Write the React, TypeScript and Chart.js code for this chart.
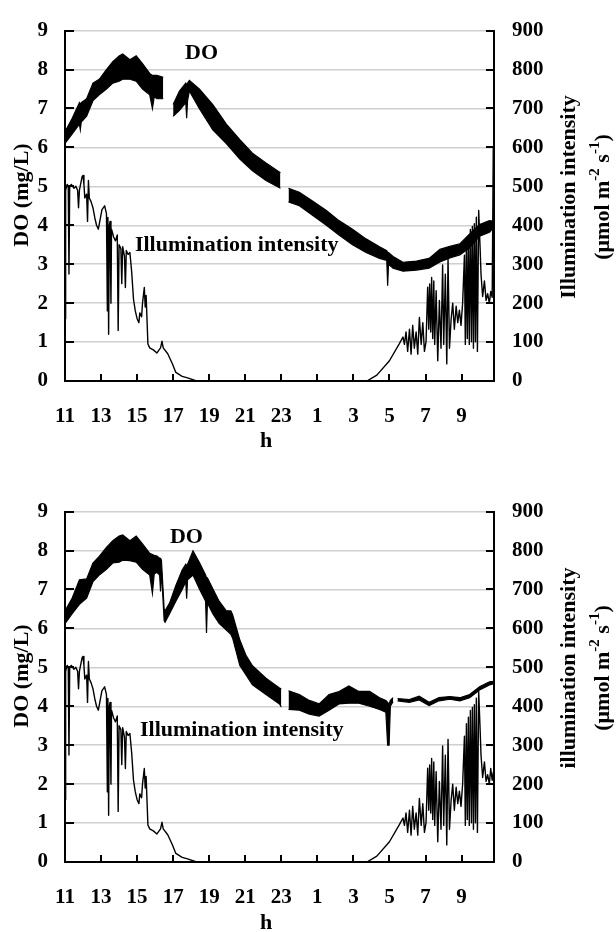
import React, { useEffect, useRef } from 'react';
import { Chart, registerables } from 'chart.js';

Chart.register(...registerables);

// ---------- axis ticks ----------
const xTickValues = [11, 13, 15, 17, 19, 21, 23, 25, 27, 29, 31, 33];
const xTickLabels = ['11', '13', '15', '17', '19', '21', '23', '1', '3', '5', '7', '9'];
const doAxisMax = 9;
const illumAxisMax = 900;

// ---------- top panel: DO band (upper / lower edge of the noisy trace) ----------
const topDoHours = [11.0, 11.4, 11.8, 11.85, 11.9, 12.2, 12.55, 12.9, 13.3, 13.65, 14.0, 14.2, 14.6, 14.95, 15.3, 15.7, 15.85, 15.95, 16.1, 16.45, 16.5, 17.0, 17.35, 17.7, 17.75, 17.8, 17.9, 18.45, 19.2, 19.95, 20.7, 21.4, 22.15, 22.95, 23.1, 23.4, 24.0, 24.75, 25.5, 26.2, 26.95, 27.7, 28.45, 28.85, 28.9, 28.95, 29.2, 29.75, 30.5, 31.2, 31.8, 32.35, 32.9, 33.45, 34.0, 34.55, 34.8];
const topDoHigh = [6.4, 6.75, 7.15, 7.1, 7.15, 7.25, 7.65, 7.75, 8.0, 8.2, 8.35, 8.4, 8.25, 8.35, 8.15, 7.9, 7.85, 7.85, 7.85, 7.8, null, 7.1, 7.45, 7.65, 7.6, 7.65, 7.72, 7.5, 7.1, 6.6, 6.2, 5.85, 5.6, 5.35, null, 4.95, 4.85, 4.62, 4.38, 4.12, 3.9, 3.65, 3.45, 3.35, 3.3, 3.3, 3.2, 3.05, 3.08, 3.15, 3.38, 3.46, 3.52, 3.78, 4.02, 4.12, 4.1];
const topDoLow = [6.1, 6.35, 6.6, 6.45, 6.65, 6.8, 7.2, 7.35, 7.5, 7.65, 7.7, 7.75, 7.75, 7.7, 7.5, 7.35, 7.0, 7.3, 7.25, 7.25, null, 6.8, 6.95, 7.15, 6.75, 7.2, 7.45, 7.0, 6.45, 6.1, 5.7, 5.4, 5.15, 4.95, null, 4.6, 4.5, 4.25, 4.0, 3.75, 3.5, 3.3, 3.15, 3.1, 2.45, 3.0, 2.9, 2.82, 2.85, 2.9, 3.06, 3.16, 3.24, 3.42, 3.72, 3.82, 3.95];

// ---------- bottom panel: DO band ----------
const bottomDoHours = [11.0, 11.4, 11.8, 12.2, 12.55, 12.9, 13.3, 13.65, 14.0, 14.2, 14.6, 14.95, 15.3, 15.7, 15.85, 15.95, 16.1, 16.25, 16.3, 16.35, 16.5, 16.55, 16.8, 17.15, 17.5, 17.7, 17.75, 17.8, 18.1, 18.45, 18.8, 18.85, 18.9, 19.2, 19.55, 19.95, 20.2, 20.3, 20.7, 21.05, 21.4, 22.15, 22.9, 23.0, 23.1, 23.4, 24.0, 24.55, 25.1, 25.65, 26.2, 26.75, 27.3, 27.9, 28.45, 28.8, 28.9, 28.98, 29.05, 29.2, 29.3, 29.45, 30.1, 30.65, 31.2, 31.75, 32.35, 32.9, 33.45, 34.0, 34.55, 34.8];
const bottomDoHigh = [6.45, 6.78, 7.25, 7.27, 7.68, 7.85, 8.08, 8.25, 8.37, 8.4, 8.25, 8.37, 8.17, 7.93, 7.9, 7.88, 7.86, 7.8, 7.8, 7.75, 6.5, 6.45, 6.65, 7.1, 7.5, 7.65, 7.6, 7.65, 7.99, 7.7, 7.37, 7.3, 7.3, 7.02, 6.7, 6.45, 6.45, 6.35, 5.7, 5.3, 5.04, 4.72, 4.47, 4.45, null, 4.4, 4.3, 4.15, 4.06, 4.3, 4.38, 4.52, 4.38, 4.38, 4.22, 4.15, 4.1, 4.05, 4.15, 4.22, null, 4.2, 4.17, 4.26, 4.1, 4.22, 4.25, 4.22, 4.3, 4.5, 4.63, 4.64];
const bottomDoLow = [6.12, 6.38, 6.62, 6.78, 7.2, 7.37, 7.52, 7.68, 7.7, 7.75, 7.74, 7.7, 7.52, 7.37, 6.9, 7.4, 7.44, 7.37, 6.95, 7.5, 6.2, 6.16, 6.38, 6.7, 7.0, 7.2, 6.76, 7.25, 7.37, 7.02, 6.7, 5.88, 6.65, 6.38, 6.13, 5.96, 5.85, 5.75, 5.05, 4.8, 4.55, 4.3, 4.06, 3.98, null, 3.92, 3.9, 3.8, 3.75, 3.9, 4.06, 4.08, 4.08, 4.0, 3.92, 3.85, 3.0, 3.0, 4.0, 4.12, null, 4.14, 4.1, 4.16, 4.02, 4.14, 4.18, 4.14, 4.22, 4.42, 4.55, 4.58];

// ---------- illumination intensity (µmol m-2 s-1), same record in both panels ----------
const illumHours = [11.0, 11.02, 11.05, 11.12, 11.18, 11.22, 11.26, 11.35, 11.5, 11.6, 11.7, 11.75, 11.8, 11.95, 12.0, 12.05, 12.1, 12.2, 12.25, 12.3, 12.35, 12.45, 12.55, 12.65, 12.75, 12.85, 12.95, 13.05, 13.2, 13.3, 13.35, 13.38, 13.42, 13.46, 13.5, 13.55, 13.58, 13.7, 13.8, 13.9, 13.95, 14.0, 14.1, 14.15, 14.2, 14.3, 14.35, 14.4, 14.5, 14.6, 14.7, 14.8, 14.9, 15.0, 15.1, 15.15, 15.25, 15.3, 15.4, 15.45, 15.5, 15.6, 15.7, 15.9, 16.1, 16.3, 16.38, 16.45, 16.7, 16.95, 17.15, 17.5, 17.8, 18.3, 27.75, 28.3, 29.0, 29.55, 29.75, 29.83, 29.92, 30.01, 30.11, 30.2, 30.29, 30.38, 30.48, 30.57, 30.66, 30.76, 30.85, 30.94, 31.03, 31.12, 31.18, 31.23, 31.29, 31.34, 31.4, 31.46, 31.51, 31.59, 31.68, 31.77, 31.86, 31.95, 32.01, 32.1, 32.18, 32.25, 32.33, 32.42, 32.51, 32.6, 32.7, 32.79, 32.88, 32.97, 33.06, 33.16, 33.21, 33.27, 33.32, 33.38, 33.43, 33.49, 33.55, 33.6, 33.66, 33.71, 33.77, 33.82, 33.88, 33.95, 34.03, 34.08, 34.17, 34.27, 34.36, 34.45, 34.54];
const illumValues = [470, 160, 490, 505, 500, 275, 500, 505, 495, 500, 490, 445, 490, 525, 528, 505, 470, 480, 410, 515, 470, 460, 445, 420, 400, 390, 415, 440, 450, 430, 180, 420, 120, 400, 410, 200, 390, 370, 360, 375, 130, 350, 340, 250, 345, 320, 240, 335, 325, 330, 280, 210, 180, 160, 150, 175, 165, 200, 240, 190, 220, 95, 85, 80, 72, 85, 102, 85, 70, 45, 22, 12, 8, 0, 0, 15, 52, 96, 113, 94, 126, 76, 133, 69, 143, 84, 126, 69, 163, 94, 150, 76, 101, 241, 133, 249, 126, 266, 109, 257, 94, 232, 52, 207, 84, 298, 94, 274, 44, 315, 84, 158, 200, 133, 192, 150, 182, 143, 200, 323, 94, 355, 109, 372, 94, 389, 101, 397, 84, 404, 101, 421, 76, 438, 340, 274, 217, 257, 207, 224, 200];
const topIllumTailHours = [34.62, 34.7, 34.76, 34.8];
const topIllumTailValues = [230, 215, 600, 400];
const bottomIllumTailHours = [34.62, 34.7, 34.76, 34.8];
const bottomIllumTailValues = [240, 210, 230, 205];

const FONT = '"Liberation Serif", "Times New Roman", Times, serif';

const line = (ctx: CanvasRenderingContext2D, x1: number, y1: number, x2: number, y2: number) => {
  ctx.beginPath();
  ctx.moveTo(x1, y1);
  ctx.lineTo(x2, y2);
  ctx.stroke();
};

const decorPlugin = {
  id: 'decor',
  afterDraw(chart: any, _args: any, opts: any) {
    const { ctx, chartArea: a, scales } = chart;
    const xs = scales.x, ys = scales.y, y2s = scales.y2;
    ctx.save();
    // inward tick marks
    ctx.strokeStyle = '#000';
    ctx.lineWidth = 2;
    xTickValues.forEach((v) => {
      if (v === xs.min) return;
      const px = Math.round(xs.getPixelForValue(v));
      line(ctx, px, a.bottom, px, a.bottom - 7);
    });
    for (let v = 1; v <= doAxisMax; v++) {
      const py = Math.round(ys.getPixelForValue(v));
      line(ctx, a.left, py, a.left + 9, py);
    }
    for (let v = 100; v <= illumAxisMax; v += 100) {
      const py = Math.round(y2s.getPixelForValue(v));
      line(ctx, a.right, py, a.right - 8, py);
    }

    ctx.fillStyle = '#000';
    ctx.font = `bold 22px ${FONT}`;
    ctx.textBaseline = 'alphabetic';
    ctx.textAlign = 'left';
    // in-plot labels
    ctx.fillText('DO', xs.getPixelForValue(opts.doLabel[0]), ys.getPixelForValue(opts.doLabel[1]));
    ctx.fillText('Illumination intensity', xs.getPixelForValue(opts.illumLabel[0]), ys.getPixelForValue(opts.illumLabel[1]));

    // x title
    ctx.textAlign = 'center';
    ctx.fillText('h', 266, opts.hBaseline);

    // left title
    ctx.save();
    ctx.translate(28, opts.leftTitleY);
    ctx.rotate(-Math.PI / 2);
    ctx.textAlign = 'center';
    ctx.fillText('DO (mg/L)', 0, 0);
    ctx.restore();

    // right title, line 1
    ctx.save();
    ctx.translate(575, opts.rightTitleY);
    ctx.rotate(-Math.PI / 2);
    ctx.textAlign = 'center';
    ctx.fillText(opts.rightTitle, 0, 0);
    ctx.restore();

    // right title, line 2 with superscripts
    const big = `bold 22px ${FONT}`;
    const small = `bold 15px ${FONT}`;
    const parts: [string, boolean][] = [['(\u03bcmol m', false], ['-2', true], [' s', false], ['-1', true], [')', false]];
    let total = 0;
    parts.forEach(([t, sup]) => {
      ctx.font = sup ? small : big;
      total += ctx.measureText(t).width;
    });
    ctx.save();
    ctx.translate(609, opts.rightTitleY);
    ctx.rotate(-Math.PI / 2);
    ctx.textAlign = 'left';
    let cx = -total / 2;
    parts.forEach(([t, sup]) => {
      ctx.font = sup ? small : big;
      ctx.fillText(t, cx, sup ? -10 : 0);
      cx += ctx.measureText(t).width;
    });
    ctx.restore();

    ctx.restore();
  },
};

const tickFont = { family: FONT, size: 21, weight: 'bold' as const };

function buildConfig(
  doHours: number[],
  doHigh: (number | null)[],
  doLow: (number | null)[],
  tailHours: number[],
  tailValues: number[],
  decor: any
): any {
  const hours = illumHours.concat(tailHours);
  const values = illumValues.concat(tailValues);
  return {
    type: 'line',
    data: {
      datasets: [
        {
          data: doHours.map((h, i) => ({ x: h, y: doLow[i] })),
          yAxisID: 'y',
          borderColor: '#000',
          borderWidth: 1.2,
          pointRadius: 0,
          fill: false,
          spanGaps: false,
        },
        {
          data: doHours.map((h, i) => ({ x: h, y: doHigh[i] })),
          yAxisID: 'y',
          borderColor: '#000',
          borderWidth: 1.2,
          pointRadius: 0,
          fill: '-1',
          backgroundColor: '#000',
          spanGaps: false,
        },
        {
          data: hours.map((h, i) => ({ x: h, y: values[i] })),
          yAxisID: 'y2',
          borderColor: '#000',
          borderWidth: 1.4,
          borderJoinStyle: 'round',
          pointRadius: 0,
          fill: false,
        },
      ],
    },
    options: {
      animation: false,
      responsive: false,
      events: [],
      layout: { padding: { top: 16, left: 0, right: 0, bottom: 0 } },
      plugins: { legend: { display: false }, tooltip: { enabled: false }, decor },
      scales: {
        x: {
          type: 'linear',
          min: 11,
          max: 34.8,
          afterBuildTicks: (s: any) => {
            s.ticks = xTickValues.map((v) => ({ value: v }));
          },
          ticks: {
            autoSkip: false,
            maxRotation: 0,
            padding: 23,
            color: '#000',
            font: tickFont,
            callback: (v: number) => xTickLabels[xTickValues.indexOf(v)] ?? '',
          },
          grid: { display: false, drawTicks: false },
          border: { display: true, color: '#000', width: 2 },
          afterFit: (s: any) => {
            s.height = 70;
          },
        },
        y: {
          position: 'left',
          min: 0,
          max: doAxisMax,
          ticks: { stepSize: 1, padding: 17, color: '#000', font: tickFont },
          grid: { color: '#cfcfcf', lineWidth: 1.5, drawTicks: false },
          border: { display: true, color: '#000', width: 2 },
          afterFit: (s: any) => {
            s.width = 65;
          },
        },
        y2: {
          position: 'right',
          min: 0,
          max: illumAxisMax,
          ticks: { stepSize: 100, padding: 18, color: '#000', font: tickFont },
          grid: { display: false, drawTicks: false },
          border: { display: true, color: '#000', width: 2 },
          afterFit: (s: any) => {
            s.width = 122;
          },
        },
      },
    },
    plugins: [decorPlugin],
  };
}

export default function App() {
  const topRef = useRef<HTMLCanvasElement>(null);
  const bottomRef = useRef<HTMLCanvasElement>(null);

  useEffect(() => {
    document.body.style.margin = '0';
    const top = new Chart(
      topRef.current!,
      buildConfig(topDoHours, topDoHigh, topDoLow, topIllumTailHours, topIllumTailValues, {
        doLabel: [17.66, 8.28],
        illumLabel: [14.88, 3.35],
        hBaseline: 447,
        leftTitleY: 195,
        rightTitleY: 197,
        rightTitle: 'Illumination intensity',
      })
    );
    const bottom = new Chart(
      bottomRef.current!,
      buildConfig(bottomDoHours, bottomDoHigh, bottomDoLow, bottomIllumTailHours, bottomIllumTailValues, {
        doLabel: [16.82, 8.19],
        illumLabel: [15.16, 3.23],
        hBaseline: 448,
        leftTitleY: 195,
        rightTitleY: 187,
        rightTitle: 'illumination intensity',
      })
    );
    return () => {
      top.destroy();
      bottom.destroy();
    };
  }, []);

  return (
    <div style={{ position: 'relative', width: 616, height: 932, background: '#fff', overflow: 'hidden' }}>
      <canvas ref={topRef} width={616} height={451} style={{ position: 'absolute', left: 0, top: 0 }} />
      <canvas ref={bottomRef} width={616} height={451} style={{ position: 'absolute', left: 0, top: 481 }} />
    </div>
  );
}
